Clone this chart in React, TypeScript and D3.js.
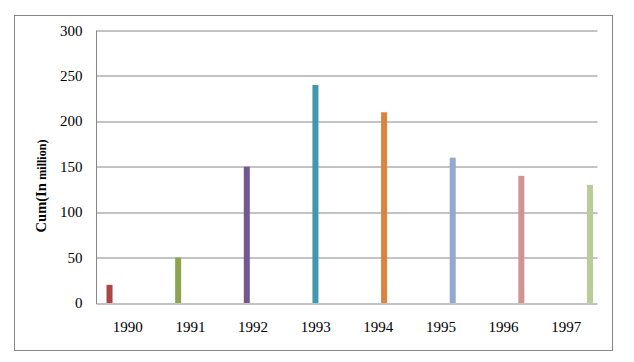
import { useEffect, useRef } from 'react';
import * as d3 from 'd3';

const years = ['1990', '1991', '1992', '1993', '1994', '1995', '1996', '1997'];
const cumValues = [20, 50, 150, 240, 210, 160, 140, 130];
const barColors = ['#AA4643', '#89A54E', '#71588F', '#4198AF', '#DB843D', '#93A9CF', '#D19392', '#B9CD96'];
const yTicks = [0, 50, 100, 150, 200, 250, 300];

export default function App() {
  const svgRef = useRef<SVGSVGElement | null>(null);

  useEffect(() => {
    if (!svgRef.current) return;
    const width = 634;
    const height = 362;
    const margin = { top: 30.5, right: 36.5, bottom: 59, left: 96.5 };
    const innerWidth = width - margin.left - margin.right;
    const innerHeight = height - margin.top - margin.bottom;

    const svg = d3.select(svgRef.current).attr('width', width).attr('height', height);
    svg.selectAll('*').remove();

    // chart border
    svg
      .append('rect')
      .attr('x', 14.5)
      .attr('y', 15.5)
      .attr('width', 598)
      .attr('height', 335)
      .attr('fill', '#ffffff')
      .attr('stroke', '#868686')
      .attr('stroke-width', 1);

    const g = svg.append('g').attr('transform', `translate(${margin.left},${margin.top})`);

    const xScale = d3.scaleBand<string>().domain(years).range([0, innerWidth]).padding(0);
    const yScale = d3.scaleLinear().domain([0, 300]).range([innerHeight, 0]);

    // each year is its own series, so the bar shifts inside its category
    const bw = xScale.bandwidth();
    const seriesScale = d3
      .scaleBand<string>()
      .domain(years)
      .range([bw * 0.16, bw * 0.928]);

    g.append('g')
      .selectAll('line')
      .data(yTicks.filter((t) => t > 0))
      .join('line')
      .attr('x1', 0)
      .attr('x2', innerWidth)
      .attr('y1', (t) => Math.round(yScale(t)) + 0.5)
      .attr('y2', (t) => Math.round(yScale(t)) + 0.5)
      .attr('stroke', '#868686')
      .attr('stroke-width', 1);

    g.append('g')
      .selectAll('rect')
      .data(years)
      .join('rect')
      .attr('x', (y) => (xScale(y) ?? 0) + (seriesScale(y) ?? 0))
      .attr('width', seriesScale.bandwidth())
      .attr('y', (_, i) => yScale(cumValues[i]))
      .attr('height', (_, i) => innerHeight - yScale(cumValues[i]))
      .attr('fill', (_, i) => barColors[i]);

    // axes lines
    g.append('line')
      .attr('x1', 0)
      .attr('x2', 0)
      .attr('y1', 0)
      .attr('y2', Math.round(innerHeight) + 0.5)
      .attr('stroke', '#868686');
    g.append('line')
      .attr('x1', 0)
      .attr('x2', innerWidth)
      .attr('y1', Math.round(innerHeight) + 0.5)
      .attr('y2', Math.round(innerHeight) + 0.5)
      .attr('stroke', '#868686');

    g.append('g')
      .selectAll('text')
      .data(yTicks)
      .join('text')
      .attr('x', -14)
      .attr('y', (t) => yScale(t) + 5)
      .attr('text-anchor', 'end')
      .attr('font-family', '"Liberation Serif", "Times New Roman", serif')
      .attr('font-size', 15)
      .attr('fill', '#000')
      .text((t) => String(t));

    g.append('g')
      .selectAll('text')
      .data(years)
      .join('text')
      .attr('x', (y) => (xScale(y) ?? 0) + bw / 2)
      .attr('y', innerHeight + 29)
      .attr('text-anchor', 'middle')
      .attr('font-family', '"Liberation Serif", "Times New Roman", serif')
      .attr('font-size', 15)
      .attr('fill', '#000')
      .text((y) => y);

    const title = svg
      .append('text')
      .attr('transform', 'translate(46,186) rotate(-90)')
      .attr('text-anchor', 'middle')
      .attr('font-family', '"Liberation Serif", "Times New Roman", serif')
      .attr('font-weight', 'bold')
      .attr('fill', '#000');
    title.append('tspan').attr('font-size', 14.5).text('Cum(In ');
    title.append('tspan').attr('font-size', 12).text('million)');
  }, []);

  return (
    <div style={{ position: 'absolute', left: 0, top: 0 }}>
      <svg ref={svgRef} style={{ display: 'block' }} />
    </div>
  );
}
